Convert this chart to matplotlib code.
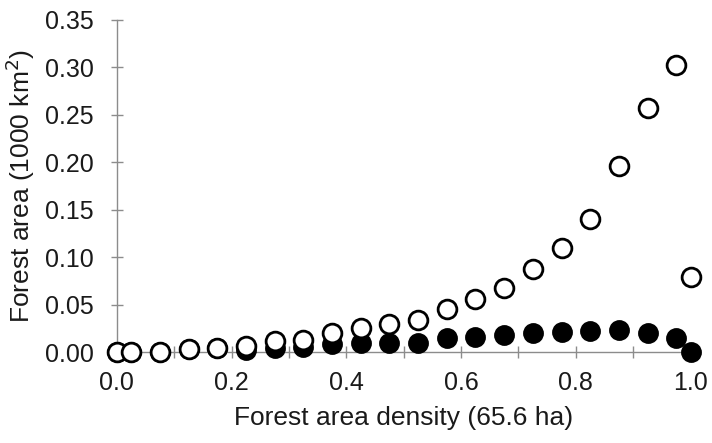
import matplotlib.pyplot as plt
import numpy as np

plt.rcParams['font.family'] = ['Liberation Sans', 'DejaVu Sans']

# density class midpoints (plus the last class at 1.0)
density = [0.0, 0.025, 0.075, 0.125, 0.175, 0.225, 0.275, 0.325, 0.375, 0.425,
           0.475, 0.525, 0.575, 0.625, 0.675, 0.725, 0.775, 0.825, 0.875,
           0.925, 0.975, 1.0]
area_open = [0.0, 0.0, 0.0005, 0.003, 0.004, 0.0068, 0.012, 0.013, 0.020, 0.025,
             0.0295, 0.034, 0.045, 0.0555, 0.067, 0.088, 0.110, 0.140, 0.196,
             0.2575, 0.303, 0.079]
area_filled = [0.0, 0.0, 0.0005, 0.003, 0.004, 0.002, 0.004, 0.005, 0.008, 0.010,
               0.010, 0.010, 0.015, 0.016, 0.0176, 0.020, 0.021, 0.022, 0.023,
               0.020, 0.015, 0.0]

axis_grey = '#8c8c8c'
text_col = '#1a1a1a'

fig = plt.figure(figsize=(7.12, 4.43), dpi=100)
ax = fig.add_axes([0.164, 0.2054, 0.806, 0.7496])

ax.plot(density, area_filled, 'o', ms=13.5, mfc='black', mec='black',
        mew=1.5, ls='none', zorder=3, clip_on=False)
ax.plot(density, area_open, 'o', ms=13.5, mfc='white', mec='black',
        mew=2.0, ls='none', zorder=4, clip_on=False)

ax.set_xlim(0, 1.0)
ax.set_ylim(0, 0.35)
ax.set_xticks(np.arange(0, 1.01, 0.2))
ax.set_xticks(np.arange(0.1, 1.0, 0.2), minor=True)
ax.set_yticks(np.arange(0, 0.351, 0.05))
ax.xaxis.set_major_formatter(plt.FormatStrFormatter('%.1f'))
ax.yaxis.set_major_formatter(plt.FormatStrFormatter('%.2f'))

for side in ('top', 'right'):
    ax.spines[side].set_visible(False)
for side in ('left', 'bottom'):
    ax.spines[side].set_color(axis_grey)
    ax.spines[side].set_linewidth(1.0)

ax.tick_params(which='both', direction='inout', length=9, width=1.0,
               color=axis_grey, labelsize=18, labelcolor=text_col)
ax.tick_params(axis='x', pad=9)
ax.tick_params(axis='y', pad=12)

ax.set_xlabel('Forest area density (65.6 ha)', fontsize=19, color=text_col,
              labelpad=8)
ax.set_ylabel('Forest area (1000 km$^2$)', fontsize=19, color=text_col,
              labelpad=6)

fig.savefig('out.png', dpi=100)
